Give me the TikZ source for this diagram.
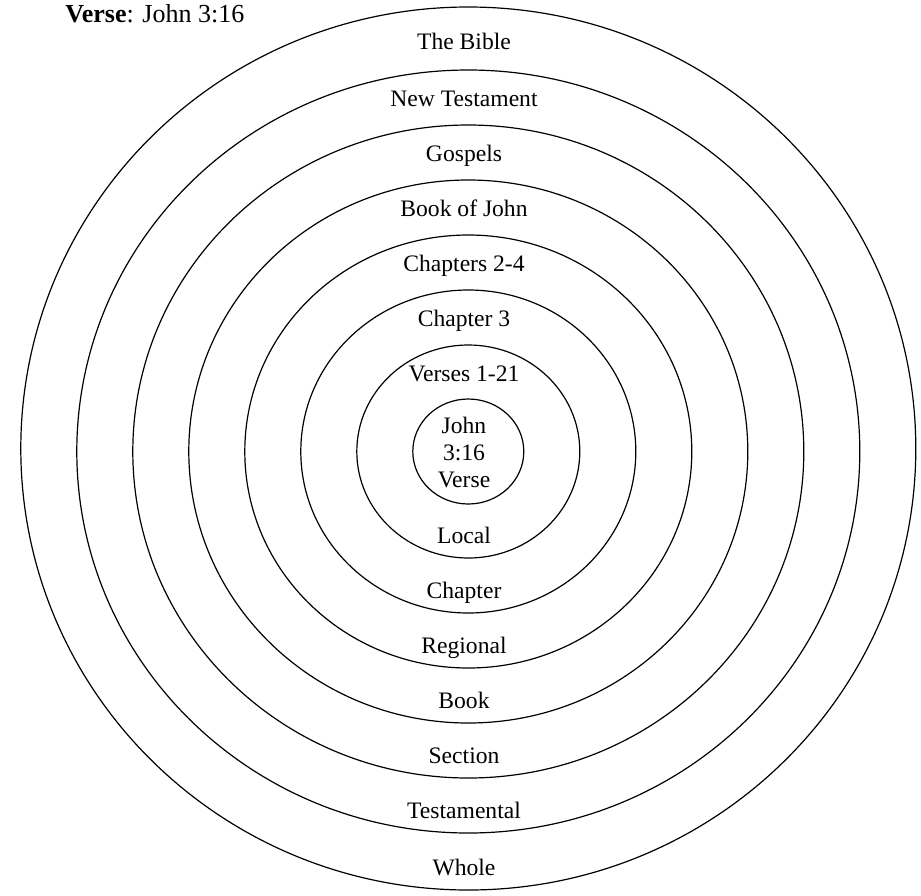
\documentclass[tikz,border=0pt]{standalone}
\usepackage{fontspec}
\setmainfont{Liberation Serif}
\usetikzlibrary{positioning}
\tikzset{
    ring/.style={draw=black, line width=0.6pt},
    ringlabel/.style={anchor=base, inner sep=0pt, font=\fontsize{11.8}{13.5}\selectfont},
    corelabel/.style={align=center, inner sep=0pt, font=\fontsize{11.8}{13.5}\selectfont},
    headlabel/.style={anchor=base west, inner sep=0pt, font=\fontsize{13}{15}\selectfont}
}

\begin{document}
\begin{tikzpicture}[x=0.5pt, y=-0.5pt]
    \useasboundingbox (0,0) rectangle (921,895);

    % Rings (inner seven share one centre, the outer one sits a little higher)
    \foreach \rx/\ry in {55.5/52.5, 111.5/106.5, 167.5/161.5, 223.5/216.5, 279.5/271.5, 335.5/326.5, 391.5/381.5}
        \draw[ring] (468.3,451.5) ellipse [x radius=\rx, y radius=\ry];
    \draw[ring] (468.3,448.5) ellipse [x radius=447.5, y radius=441.5];

    % Heading
    \node[headlabel] (heading) at (65,22) {\textbf{Verse}: John 3:16};

    % Centre
    \node[corelabel] (core) at (464,452) {John\\3:16\\Verse};

    % Upper labels
    \foreach \name/\txt/\yy in {bible/The Bible/49, newtest/New Testament/106, gospels/Gospels/161,
        bookjohn/Book of John/216, chapters/Chapters 2-4/271, chapthree/Chapter 3/326, verses/Verses 1-21/381}
        \node[ringlabel] (\name) at (464,\yy) {\txt};

    % Lower labels
    \foreach \name/\txt/\yy in {local/Local/543, chapter/Chapter/598, regional/Regional/653,
        book/Book/708, section/Section/763, testamental/Testamental/818, whole/Whole/875}
        \node[ringlabel] (\name) at (464,\yy) {\txt};
\end{tikzpicture}
\end{document}
